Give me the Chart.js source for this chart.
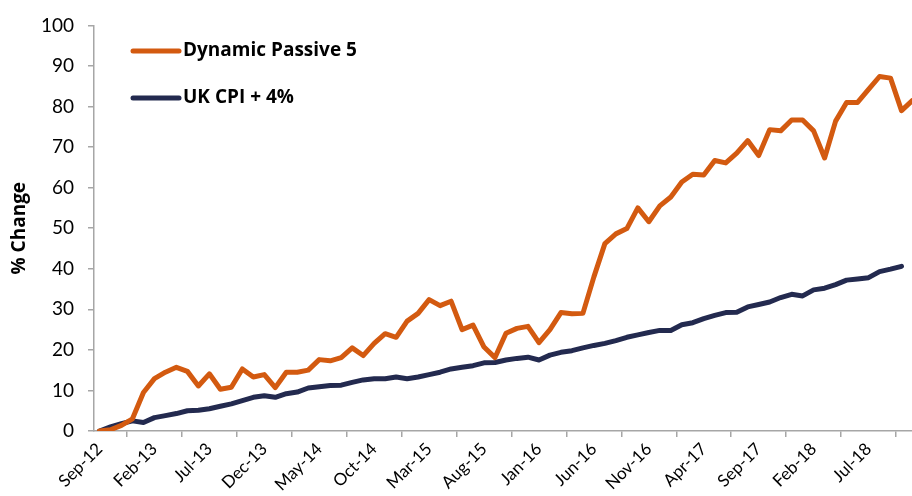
<!DOCTYPE html>
<html>
<head>
<meta charset="utf-8">
<script src="https://cdn.jsdelivr.net/npm/chart.js@4.4.1/dist/chart.umd.min.js"></script>
<style>
  html, body { margin: 0; padding: 0; background: #ffffff; overflow: hidden; }
  #wrap { width: 920px; height: 496px; }
</style>
</head>
<body>
<div id="wrap"><canvas id="c" width="920" height="496"></canvas></div>
<script>
const categories = [
  "Sep-12","Oct-12","Nov-12","Dec-12","Jan-13","Feb-13","Mar-13","Apr-13","May-13","Jun-13","Jul-13","Aug-13",
  "Sep-13","Oct-13","Nov-13","Dec-13","Jan-14","Feb-14","Mar-14","Apr-14","May-14","Jun-14","Jul-14","Aug-14",
  "Sep-14","Oct-14","Nov-14","Dec-14","Jan-15","Feb-15","Mar-15","Apr-15","May-15","Jun-15","Jul-15","Aug-15",
  "Sep-15","Oct-15","Nov-15","Dec-15","Jan-16","Feb-16","Mar-16","Apr-16","May-16","Jun-16","Jul-16","Aug-16",
  "Sep-16","Oct-16","Nov-16","Dec-16","Jan-17","Feb-17","Mar-17","Apr-17","May-17","Jun-17","Jul-17","Aug-17",
  "Sep-17","Oct-17","Nov-17","Dec-17","Jan-18","Feb-18","Mar-18","Apr-18","May-18","Jun-18","Jul-18","Aug-18",
  "Sep-18","Oct-18","Nov-18"
];
const dynamicPassive5 = [
  0, 0.3, 1.4, 3.0, 9.5, 12.9, 14.5, 15.7, 14.7, 11.1, 14.1, 10.3,
  10.8, 15.3, 13.3, 13.9, 10.7, 14.5, 14.5, 15.0, 17.6, 17.3, 18.1, 20.5,
  18.6, 21.6, 24.0, 23.1, 27.1, 29.0, 32.4, 30.9, 32.0, 25.0, 26.1, 20.7,
  18.1, 24.1, 25.3, 25.8, 21.8, 25.0, 29.2, 28.9, 29.0, 38.0, 46.2, 48.6,
  49.9, 55.0, 51.6, 55.5, 57.7, 61.4, 63.3, 63.1, 66.7, 66.1, 68.5, 71.6,
  67.9, 74.3, 74.0, 76.7, 76.7, 74.0, 67.3, 76.4, 81.0, 81.0, 84.2, 87.4,
  87.0, 79.0, 81.5
];
const ukCpiPlus4 = [
  0, 1.0, 1.8, 2.5, 2.1, 3.3, 3.8, 4.3, 5.0, 5.1, 5.5, 6.1,
  6.7, 7.5, 8.3, 8.7, 8.3, 9.2, 9.6, 10.6, 10.9, 11.2, 11.3, 12.0,
  12.6, 12.9, 12.9, 13.3, 12.9, 13.3, 13.9, 14.5, 15.3, 15.7, 16.1, 16.8,
  16.9, 17.5, 17.9, 18.2, 17.5, 18.7, 19.4, 19.8, 20.5, 21.1, 21.6, 22.3,
  23.1, 23.7, 24.3, 24.8, 24.8, 26.2, 26.7, 27.7, 28.5, 29.2, 29.3, 30.6,
  31.2, 31.8, 32.9, 33.7, 33.3, 34.8, 35.2, 36.1, 37.2, 37.5, 37.8, 39.3,
  39.9, 40.6, null
];
const seriesNames = ["Dynamic Passive 5", "UK CPI + 4%"];
const seriesColors = ["#D35A10", "#232A4F"];
const yTicks = [0, 10, 20, 30, 40, 50, 60, 70, 80, 90, 100];
const labelEvery = 5;

const axisGray = "#A6A6A6";
const FONT = "Lato, 'Open Sans', 'Liberation Sans', sans-serif";
const BOLDFONT = "'Open Sans', Lato, 'Liberation Sans', sans-serif";

const insideLegend = {
  id: "insideLegend",
  afterDraw(chart) {
    const ctx = chart.ctx;
    const rows = [51, 98];
    ctx.save();
    chart.data.datasets.forEach((ds, i) => {
      const y = rows[i];
      ctx.strokeStyle = ds.borderColor;
      ctx.lineWidth = 5;
      ctx.lineCap = "round";
      ctx.beginPath();
      ctx.moveTo(133, y);
      ctx.lineTo(179, y);
      ctx.stroke();
      ctx.fillStyle = "#000000";
      ctx.font = "bold 19px " + BOLDFONT;
      ctx.textAlign = "left";
      ctx.textBaseline = "middle";
      ctx.fillText(ds.label, 183, y);
    });
    ctx.restore();
  }
};

new Chart(document.getElementById("c"), {
  type: "line",
  data: {
    labels: categories,
    datasets: [
      { label: seriesNames[0], data: dynamicPassive5, borderColor: seriesColors[0], backgroundColor: seriesColors[0],
        borderWidth: 5, pointRadius: 0, tension: 0, borderJoinStyle: "round", borderCapStyle: "round", spanGaps: false },
      { label: seriesNames[1], data: ukCpiPlus4, borderColor: seriesColors[1], backgroundColor: seriesColors[1],
        borderWidth: 5, pointRadius: 0, tension: 0, borderJoinStyle: "round", borderCapStyle: "round", spanGaps: false }
    ]
  },
  options: {
    responsive: false,
    animation: false,
    devicePixelRatio: 1,
    layout: { padding: { top: 16, right: 2, bottom: 0, left: 0 } },
    plugins: { legend: { display: false }, tooltip: { enabled: false } },
    scales: {
      x: {
        type: "category",
        offset: true,
        grid: { display: true, offset: true, drawOnChartArea: false, drawTicks: true, tickLength: 6, color: axisGray, lineWidth: 1.5 },
        border: { display: true, color: axisGray, width: 1.5 },
        ticks: {
          autoSkip: false, maxRotation: 45, minRotation: 45, padding: 2,
          color: "#000000", font: { family: FONT, size: 17 },
          callback: function(value, index) { return index % labelEvery === 0 ? categories[index] : null; }
        },
        afterFit: function(scale) { scale.height = 65; }
      },
      y: {
        min: yTicks[0], max: yTicks[yTicks.length - 1],
        afterBuildTicks: function(scale) { scale.ticks = yTicks.map(v => ({ value: v })); },
        grid: { display: true, drawOnChartArea: false, drawTicks: true, tickLength: 6, color: axisGray, lineWidth: 1.5 },
        border: { display: true, color: axisGray, width: 1.5 },
        ticks: { color: "#000000", font: { family: FONT, size: 19 }, padding: 14 },
        title: { display: true, text: "% Change", color: "#000000", font: { family: BOLDFONT, size: 19, weight: "bold" }, padding: { top: 8, bottom: 0 } },
        afterFit: function(scale) { scale.width = 94; }
      }
    }
  },
  plugins: [insideLegend]
});
</script>
</body>
</html>
